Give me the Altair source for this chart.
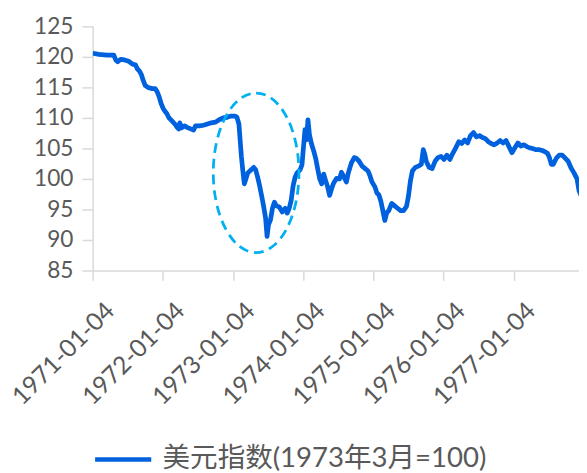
import altair as alt
import pandas as pd

# time in decimal years, values of the index
years = [
    1971.000, 1971.090, 1971.202, 1971.301, 1971.329, 1971.357, 1971.399, 1971.455,
    1971.511, 1971.568, 1971.610, 1971.638, 1971.666, 1971.694, 1971.722, 1971.750,
    1971.792, 1971.849, 1971.891, 1971.919, 1971.947, 1971.975, 1972.003, 1972.031,
    1972.059, 1972.088, 1972.130, 1972.172, 1972.200, 1972.228, 1972.242, 1972.270,
    1972.312, 1972.355, 1972.397, 1972.439, 1972.467, 1972.523, 1972.579, 1972.636,
    1972.692, 1972.748, 1972.804, 1972.860, 1972.917, 1972.973, 1973.029, 1973.057,
    1973.085, 1973.099, 1973.120, 1973.141, 1973.162, 1973.184, 1973.212, 1973.240,
    1973.268, 1973.296, 1973.324, 1973.352, 1973.380, 1973.408, 1973.436, 1973.465,
    1973.486, 1973.507, 1973.535, 1973.563, 1973.591, 1973.619, 1973.661, 1973.703,
    1973.746, 1973.774, 1973.802, 1973.830, 1973.858, 1973.886, 1973.914, 1973.956,
    1973.984, 1974.006, 1974.027, 1974.048, 1974.069, 1974.090, 1974.118, 1974.153,
    1974.181, 1974.209, 1974.237, 1974.265, 1974.294, 1974.322, 1974.350, 1974.378,
    1974.406, 1974.434, 1974.476, 1974.518, 1974.547, 1974.575, 1974.617, 1974.645,
    1974.687, 1974.729, 1974.757, 1974.799, 1974.842, 1974.884, 1974.926, 1974.954,
    1974.982, 1975.024, 1975.052, 1975.080, 1975.108, 1975.137, 1975.165, 1975.193,
    1975.221, 1975.263, 1975.305, 1975.347, 1975.390, 1975.432, 1975.474, 1975.502,
    1975.530, 1975.558, 1975.600, 1975.643, 1975.685, 1975.713, 1975.734, 1975.755,
    1975.797, 1975.839, 1975.881, 1975.923, 1975.966, 1976.008, 1976.050, 1976.092,
    1976.134, 1976.176, 1976.219, 1976.261, 1976.303, 1976.345, 1976.387, 1976.429,
    1976.471, 1976.514, 1976.556, 1976.598, 1976.640, 1976.682, 1976.724, 1976.767,
    1976.809, 1976.851, 1976.893, 1976.935, 1976.977, 1977.019, 1977.062, 1977.104,
    1977.146, 1977.188, 1977.230, 1977.272, 1977.315, 1977.357, 1977.399, 1977.441,
    1977.483, 1977.511, 1977.539, 1977.567, 1977.610, 1977.652, 1977.694, 1977.736,
    1977.778, 1977.820, 1977.862, 1977.905, 1977.933, 1977.961,
]
values = [
    120.6, 120.4, 120.3, 120.3, 119.5, 119.2, 119.6, 119.5,
    119.3, 118.8, 118.7, 118.0, 117.7, 117.1, 116.1, 115.3,
    115.0, 114.8, 114.8, 114.3, 113.5, 112.4, 111.6, 111.1,
    110.7, 110.0, 109.5, 109.0, 108.5, 108.2, 109.2, 108.4,
    108.7, 108.4, 108.2, 108.0, 108.7, 108.7, 108.8, 109.0,
    109.2, 109.3, 109.7, 110.0, 110.1, 110.3, 110.3, 110.1,
    109.0, 106.9, 103.7, 101.3, 99.2, 100.0, 101.0, 101.3,
    101.6, 101.9, 101.5, 100.3, 98.9, 97.3, 95.6, 93.6,
    90.6, 92.5, 93.3, 95.2, 96.2, 95.6, 95.4, 94.6,
    95.2, 94.4, 95.2, 96.5, 98.9, 100.3, 101.0, 101.5,
    102.3, 105.3, 108.1, 106.4, 109.7, 107.3, 105.8, 104.5,
    103.3, 101.6, 100.0, 99.2, 100.8, 99.7, 98.7, 97.3,
    98.4, 99.3, 100.1, 100.0, 101.1, 100.5, 99.5, 101.0,
    102.6, 103.5, 103.4, 102.9, 102.1, 101.7, 101.3, 100.5,
    99.5, 98.7, 97.7, 97.4, 96.4, 94.8, 93.2, 94.5,
    94.8, 96.0, 95.6, 95.2, 94.8, 94.8, 95.5, 97.2,
    99.7, 101.3, 101.9, 102.1, 102.4, 104.8, 104.1, 102.9,
    101.9, 101.7, 102.9, 103.5, 103.7, 103.2, 103.9, 103.2,
    104.2, 105.1, 106.1, 105.8, 106.4, 105.9, 107.1, 107.6,
    106.9, 107.1, 106.8, 106.6, 106.1, 105.8, 105.6, 105.9,
    106.3, 105.9, 106.3, 105.3, 104.3, 105.1, 105.9, 105.4,
    105.6, 105.3, 105.1, 105.0, 104.8, 104.8, 104.7, 104.5,
    104.2, 103.5, 102.4, 102.4, 103.4, 103.9, 103.9, 103.4,
    102.9, 101.8, 101.0, 100.0, 98.1, 97.3,
]
series_name = "美元指数(1973年3月=100)"

tick_years = [1971, 1972, 1973, 1974, 1975, 1976, 1977]
tick_labels = ["1971-01-04", "1972-01-04", "1973-01-04", "1974-01-04",
               "1975-01-04", "1976-01-04", "1977-01-04"]
y_ticks = [85, 90, 95, 100, 105, 110, 115, 120, 125]
x_domain = [1971.0, 1977.933]
y_domain = [85, 125]

# dashed ellipse annotation (centre in data units)
ellipse_t = [1973.33]
ellipse_v = [101.0]

label_expr = "''"
for yv, lab in reversed(list(zip(tick_years, tick_labels))):
    label_expr = f"datum.value == {yv} ? '{lab}' : ({label_expr})"

FONT = "Lato, 'Noto Sans CJK SC', sans-serif"

df = pd.DataFrame({"t": years, "v": values, "s": series_name})
ell_df = pd.DataFrame({"t": ellipse_t, "v": ellipse_v})

a = 0.537
ca = round(a * 0.5523, 4)
ELLIPSE_PATH = (f"M0,-1C{ca},-1 {a},-0.5523 {a},0C{a},0.5523 {ca},1 0,1"
                f"C{-ca},1 {-a},0.5523 {-a},0C{-a},-0.5523 {-ca},-1 0,-1Z")

line = alt.Chart(df).mark_line(strokeWidth=4.8, strokeJoin="round", clip=True).encode(
    x=alt.X("t:Q",
            scale=alt.Scale(domain=x_domain, nice=False, zero=False),
            axis=alt.Axis(values=tick_years, tickCount=20, labelExpr=label_expr,
                          labelAngle=-45, labelOverlap=False, title=None, grid=False,
                          tickSize=10, labelPadding=18, labelOffset=9,
                          labelFontSize=25)),
    y=alt.Y("v:Q",
            scale=alt.Scale(domain=y_domain, nice=False, zero=False),
            axis=alt.Axis(values=y_ticks, tickCount=20, title=None, grid=False,
                          tickSize=11, labelOverlap=False, labelPadding=9)),
    color=alt.Color("s:N", scale=alt.Scale(range=["#0061DE"]),
                    legend=alt.Legend(title=None, orient="none", legendX=0, legendY=409,
                                      symbolType="stroke", symbolSize=3249,
                                      symbolStrokeWidth=4.5, labelFontSize=28,
                                      labelLimit=0, labelOffset=9, padding=0)),
)

ellipse = alt.Chart(ell_df).mark_point(
    shape=ELLIPSE_PATH, size=26244, filled=False, stroke="#00B0F0",
    strokeWidth=2.8, strokeDash=[10, 6], opacity=1,
).encode(x="t:Q", y="v:Q")

chart = alt.layer(line, ellipse).properties(
    width=494, height=248,
    autosize=alt.AutoSizeParams(type="none"),
    padding={"left": 86, "top": 15, "right": 0, "bottom": 201},
).configure_view(stroke=None).configure_axis(
    domainColor="#D9D9D9", tickColor="#D9D9D9", domainWidth=1.5, tickWidth=1.5,
    labelColor="#595959", labelFont=FONT, labelFontSize=23,
).configure_legend(labelFont=FONT, labelColor="#595959")

chart.save("out.html", embed_options={"renderer": "svg", "actions": False})
